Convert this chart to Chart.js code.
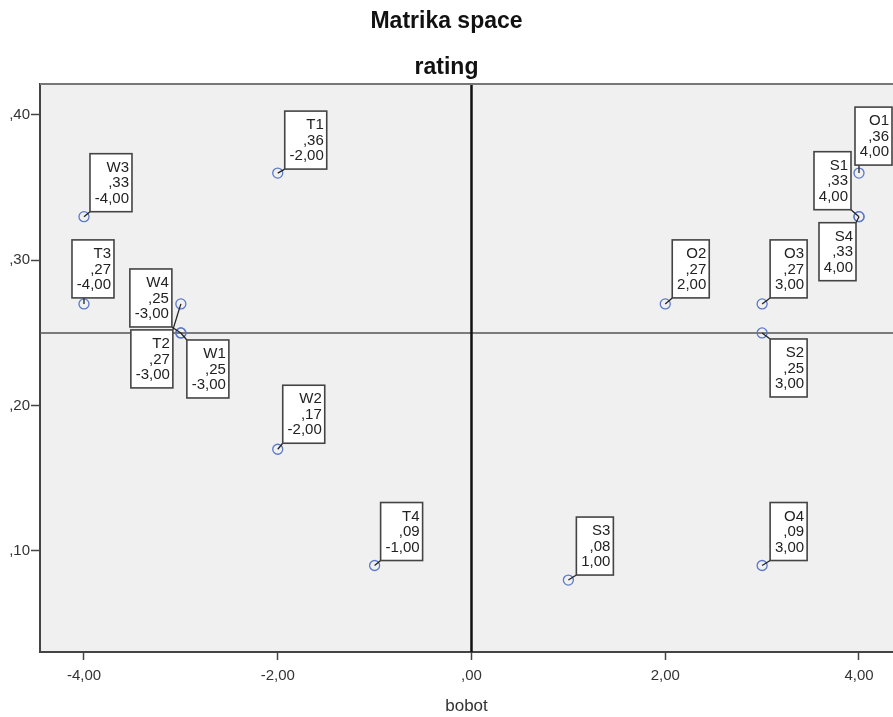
<!DOCTYPE html>
<html>
<head>
<meta charset="utf-8">
<script src="https://cdn.jsdelivr.net/npm/chart.js@4"></script>
<style>
  html, body { margin: 0; padding: 0; background: #fff; }
  #wrap { width: 893px; height: 717px; }
</style>
</head>
<body>
<div id="wrap"><canvas id="myChart" width="893" height="717"></canvas></div>
<script>
// data
const names  = ["W1", "W2", "W3", "W4", "T1", "T2", "T3", "T4", "S1", "S2", "S3", "S4", "O1", "O2", "O3", "O4"];
const bobot  = [-3, -2, -4, -3, -2, -3, -4, -1, 4, 3, 1, 4, 4, 2, 3, 3];
const rating = [0.25, 0.17, 0.33, 0.25, 0.36, 0.27, 0.27, 0.09, 0.33, 0.25, 0.08, 0.33, 0.36, 0.27, 0.27, 0.09];
const xTicks = [-4, -2, 0, 2, 4];
const yTicks = [0.10, 0.20, 0.30, 0.40];
const refX = 0;
const refY = 0.25;

// where each label box sits next to its point: corner of box, pixel offset
const labelPlace = {
  T1: ["bl", 7, -4],  W3: ["bl", 6, -5],  T3: ["bl", -12, -6], W4: ["br", -9, -6],
  T2: ["tr", -8, 26], W1: ["tl", 6, 7],   W2: ["bl", 5, -6],   T4: ["bl", 6, -5],
  S3: ["bl", 8, -5],  O4: ["bl", 8, -5],  O2: ["bl", 7, -6],   O3: ["bl", 8, -6],
  S2: ["tl", 8, 6],   S1: ["br", -8, -7], S4: ["tr", -3, 6],   O1: ["bl", -4, -8],
};

const FONT = "'Liberation Sans', Arial, sans-serif";

// SPSS style number: ",25"  "-4,00"
function fmt(v) {
  let s = Math.abs(v).toFixed(2).replace(".", ",");
  if (s.startsWith("0,")) s = s.slice(1);
  return (v < 0 ? "-" : "") + s;
}

const points = names.map((n, i) => ({ x: bobot[i], y: rating[i] }));

const quadPlugin = {
  id: "quad",
  beforeDraw(chart) {
    const { ctx, chartArea: a } = chart;
    ctx.save();
    ctx.fillStyle = "#fff";
    ctx.fillRect(0, 0, chart.width, chart.height);
    ctx.fillStyle = "#f0f0f0";
    ctx.fillRect(a.left, a.top, a.right - a.left, a.bottom - a.top);
    ctx.restore();
  },
  beforeDatasetsDraw(chart) {
    const { ctx, chartArea: a, scales } = chart;
    const px = scales.x.getPixelForValue(refX);
    const py = scales.y.getPixelForValue(refY);
    ctx.save();
    ctx.strokeStyle = "#555";
    ctx.lineWidth = 1.5;
    ctx.beginPath();
    ctx.moveTo(a.left, py);
    ctx.lineTo(a.right, py);
    ctx.stroke();
    ctx.strokeStyle = "#111";
    ctx.lineWidth = 2.5;
    ctx.beginPath();
    ctx.moveTo(px, a.top);
    ctx.lineTo(px, a.bottom);
    ctx.stroke();
    // top frame line
    ctx.strokeStyle = "#777";
    ctx.lineWidth = 2;
    ctx.beginPath();
    ctx.moveTo(a.left, a.top);
    ctx.lineTo(a.right, a.top);
    ctx.stroke();
    ctx.restore();
  },
  afterDatasetsDraw(chart) {
    const { ctx, scales } = chart;
    ctx.save();
    ctx.font = "15px " + FONT;
    ctx.textAlign = "right";
    ctx.textBaseline = "middle";
    names.forEach((n, i) => {
      const px = scales.x.getPixelForValue(bobot[i]);
      const py = scales.y.getPixelForValue(rating[i]);
      const lines = [n, fmt(rating[i]), fmt(bobot[i])];
      const w = Math.round(Math.max(...lines.map(t => ctx.measureText(t).width)) + 8);
      const h = 58;
      const [corner, dx, dy] = labelPlace[n];
      let left = px + dx, top = py + dy;
      if (corner[1] === "r") left -= w;
      if (corner[0] === "b") top -= h;
      // leader line from box edge to point centre
      const cx = Math.min(Math.max(px, left), left + w);
      const cy = Math.min(Math.max(py, top), top + h);
      ctx.strokeStyle = "#222";
      ctx.lineWidth = 1.3;
      ctx.beginPath();
      ctx.moveTo(cx, cy);
      ctx.lineTo(px, py);
      ctx.stroke();
      ctx.fillStyle = "#fff";
      ctx.fillRect(left, top, w, h);
      ctx.strokeStyle = "#444";
      ctx.lineWidth = 1.6;
      ctx.strokeRect(left, top, w, h);
      ctx.fillStyle = "#222";
      lines.forEach((t, k) => ctx.fillText(t, left + w - 3, top + 14 + k * 15.5));
    });
    ctx.restore();
  },
};

const config = {
  type: "scatter",
  data: {
    datasets: [{
      label: "rating",
      data: points,
      pointRadius: 5,
      pointBorderWidth: 1.3,
      pointBorderColor: "#5b79c9",
      pointBackgroundColor: "rgba(0,0,0,0)",
    }],
  },
  options: {
    responsive: false,
    animation: false,
    events: [],
    layout: { padding: 0, autoPadding: false },
    plugins: {
      legend: { display: false },
      tooltip: { enabled: false },
      title: {
        display: true,
        text: "Matrika space",
        color: "#111",
        font: { family: FONT, size: 23, weight: "bold" },
        padding: { top: 8, bottom: 0 },
      },
      subtitle: {
        display: true,
        text: "rating",
        color: "#111",
        font: { family: FONT, size: 23, weight: "bold" },
        padding: { top: 18.6, bottom: 2.2 },
      },
    },
    scales: {
      x: {
        type: "linear",
        min: -4.454,
        max: 4.351,
        afterBuildTicks: s => { s.ticks = xTicks.map(v => ({ value: v })); },
        afterFit: s => { s.height = 65; s.paddingLeft = 0; s.paddingRight = 0; },
        grid: { drawOnChartArea: false, drawTicks: true, tickLength: 8, tickColor: "#444", tickWidth: 1.5 },
        border: { display: true, color: "#444", width: 2 },
        ticks: {
          padding: 7,
          color: "#333",
          font: { family: FONT, size: 15 },
          callback: v => fmt(v),
        },
        title: {
          display: true,
          text: "bobot",
          color: "#333",
          font: { family: FONT, size: 17 },
          padding: { top: 7, bottom: 0 },
        },
      },
      y: {
        type: "linear",
        min: 0.0305,
        max: 0.4213,
        afterBuildTicks: s => { s.ticks = yTicks.map(v => ({ value: v })); },
        afterFit: s => { s.width = 40; s.paddingTop = 0; s.paddingBottom = 0; },
        grid: { drawOnChartArea: false, drawTicks: true, tickLength: 9, tickColor: "#444", tickWidth: 1.5 },
        border: { display: true, color: "#444", width: 2 },
        ticks: {
          padding: 1,
          color: "#333",
          font: { family: FONT, size: 15 },
          callback: v => fmt(v),
        },
      },
    },
  },
  plugins: [quadPlugin],
};

const myChart = new Chart(document.getElementById("myChart"), config);
</script>
</body>
</html>
